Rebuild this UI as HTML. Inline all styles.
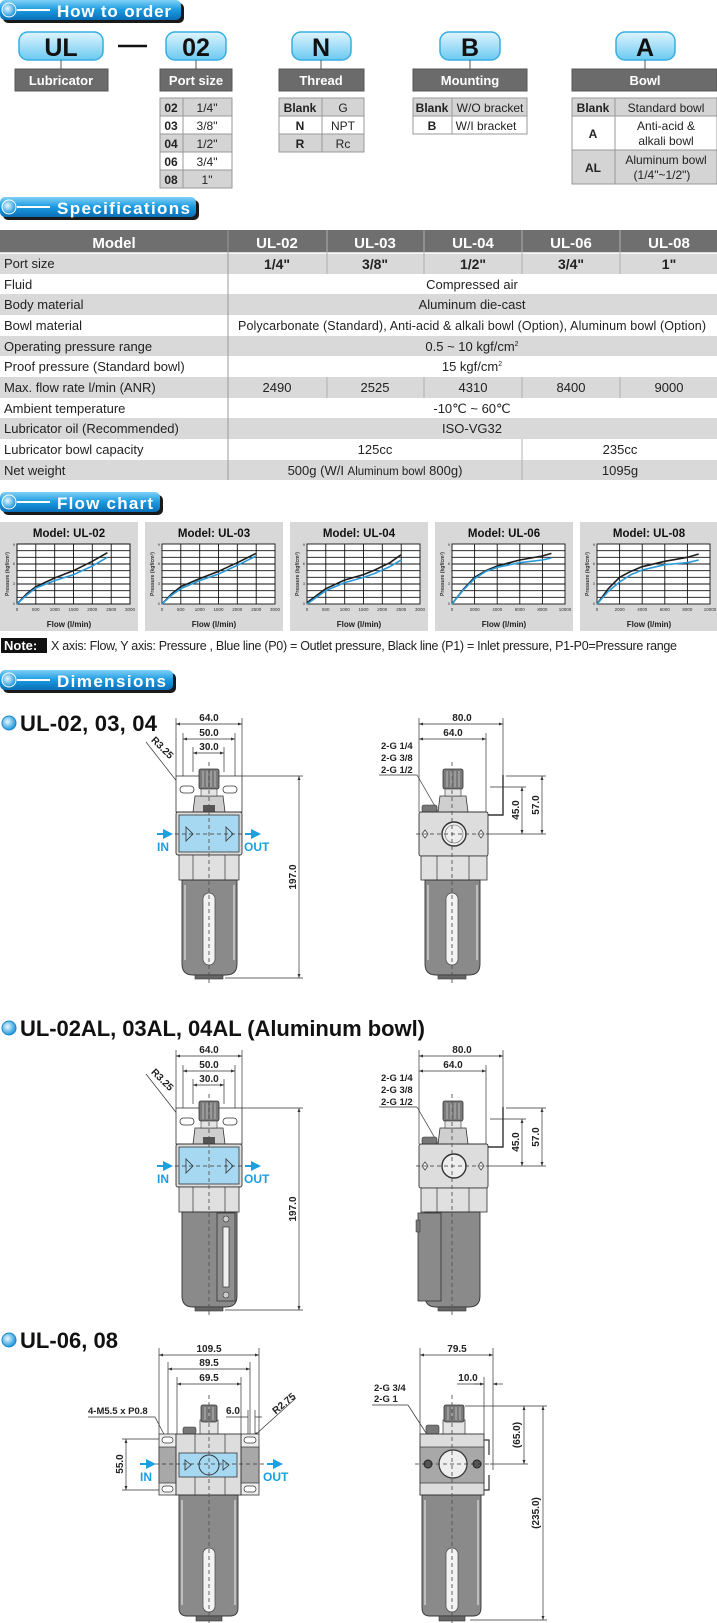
<!DOCTYPE html>
<html><head><meta charset="utf-8"><style>
html,body{margin:0;padding:0;background:#fff}
svg{display:block;font-family:"Liberation Sans",Arial,sans-serif}
</style></head><body>
<svg width="717" height="1623" viewBox="0 0 717 1623" xmlns="http://www.w3.org/2000/svg">
<defs>
<linearGradient id="bn" x1="0" y1="0" x2="0" y2="1"><stop offset="0" stop-color="#7fd0f6"/><stop offset="0.5" stop-color="#1a9ae0"/><stop offset="1" stop-color="#0b6fb8"/></linearGradient>
<linearGradient id="bx" x1="0" y1="0" x2="0" y2="1"><stop offset="0" stop-color="#dff5fe"/><stop offset="1" stop-color="#6cc9f1"/></linearGradient>
<radialGradient id="bul" cx="0.4" cy="0.4" r="0.6"><stop offset="0" stop-color="#e8f8ff"/><stop offset="1" stop-color="#1b96dc"/></radialGradient>
<marker id="ar" viewBox="0 0 8 6" refX="8" refY="3" markerWidth="6" markerHeight="4.5" orient="auto-start-reverse"><path d="M0,0L8,3L0,6Z" fill="#333"/></marker>
<marker id="ab" viewBox="0 0 8 8" refX="4" refY="4" markerWidth="5" markerHeight="5" orient="auto"><path d="M0,0L8,4L0,8Z" fill="#1a9fe3"/></marker>
</defs>

<!-- ===== Banners ===== -->
<g>
<rect x="3" y="3" width="181" height="20" rx="5" fill="#1a1a1a"/><rect x="0" y="0" width="181" height="20" rx="5" fill="url(#bn)"/>
<circle cx="9" cy="10" r="7" fill="url(#bul)" stroke="#fff" stroke-width="1"/><line x1="17" y1="10" x2="50" y2="10" stroke="#fff" stroke-width="2"/>
<text x="57" y="17" font-size="17" font-weight="bold" fill="#fff" textLength="114">How to order</text>
</g>
<g>
<rect x="3" y="200" width="196" height="20" rx="5" fill="#1a1a1a"/><rect x="0" y="197" width="196" height="20" rx="5" fill="url(#bn)"/>
<circle cx="9" cy="207" r="7" fill="url(#bul)" stroke="#fff" stroke-width="1"/><line x1="17" y1="207" x2="50" y2="207" stroke="#fff" stroke-width="2"/>
<text x="57" y="214" font-size="17" font-weight="bold" fill="#fff" textLength="133">Specifications</text>
</g>
<g>
<rect x="3" y="495" width="160" height="20" rx="5" fill="#1a1a1a"/><rect x="0" y="492" width="160" height="20" rx="5" fill="url(#bn)"/>
<circle cx="9" cy="502" r="7" fill="url(#bul)" stroke="#fff" stroke-width="1"/><line x1="17" y1="502" x2="50" y2="502" stroke="#fff" stroke-width="2"/>
<text x="57" y="509" font-size="17" font-weight="bold" fill="#fff" textLength="96">Flow chart</text>
</g>
<g>
<rect x="3" y="673" width="173" height="20" rx="5" fill="#1a1a1a"/><rect x="0" y="670" width="173" height="20" rx="5" fill="url(#bn)"/>
<circle cx="9" cy="680" r="7" fill="url(#bul)" stroke="#fff" stroke-width="1"/><line x1="17" y1="680" x2="50" y2="680" stroke="#fff" stroke-width="2"/>
<text x="57" y="687" font-size="17" font-weight="bold" fill="#fff" textLength="109">Dimensions</text>
</g>

<!-- ===== How to order ===== -->
<g font-weight="bold" font-size="25" text-anchor="middle" fill="#111">
<rect x="19" y="32" width="84" height="28" rx="9" fill="url(#bx)" stroke="#36aee2" stroke-width="1.5"/><text x="61" y="56">UL</text>
<rect x="166" y="32" width="60" height="28" rx="9" fill="url(#bx)" stroke="#36aee2" stroke-width="1.5"/><text x="196" y="56">02</text>
<rect x="292" y="32" width="59" height="28" rx="9" fill="url(#bx)" stroke="#36aee2" stroke-width="1.5"/><text x="321" y="56">N</text>
<rect x="440" y="32" width="60" height="28" rx="9" fill="url(#bx)" stroke="#36aee2" stroke-width="1.5"/><text x="470" y="56">B</text>
<rect x="616" y="32" width="59" height="28" rx="9" fill="url(#bx)" stroke="#36aee2" stroke-width="1.5"/><text x="645" y="56">A</text>
</g>
<line x1="118" y1="46" x2="147" y2="46" stroke="#111" stroke-width="2.5"/>
<g stroke="#555" stroke-width="1"><line x1="61" y1="60" x2="61" y2="69"/><line x1="196" y1="60" x2="196" y2="69"/><line x1="321" y1="60" x2="321" y2="69"/><line x1="470" y1="60" x2="470" y2="69"/><line x1="645" y1="60" x2="645" y2="69"/></g>
<g fill="#6b6b6b" stroke="#555">
<rect x="15" y="69" width="93" height="22"/><rect x="160" y="69" width="72" height="22"/><rect x="279" y="69" width="85" height="22"/><rect x="413" y="69" width="114" height="22"/><rect x="572" y="69" width="145" height="22"/>
</g>
<g font-weight="bold" font-size="13" fill="#fff" text-anchor="middle">
<text x="61" y="85">Lubricator</text><text x="196" y="85">Port size</text><text x="321" y="85">Thread</text><text x="470" y="85">Mounting</text><text x="645" y="85">Bowl</text>
</g>
<!-- port table -->
<g stroke="#999" stroke-width="1">
<rect x="160" y="98" width="72" height="18" fill="#d4d4d4"/><rect x="160" y="116" width="72" height="18" fill="#fff"/><rect x="160" y="134" width="72" height="18" fill="#d4d4d4"/><rect x="160" y="152" width="72" height="18" fill="#fff"/><rect x="160" y="170" width="72" height="18" fill="#d4d4d4"/>
<line x1="183" y1="98" x2="183" y2="188"/>
<rect x="279" y="98" width="85" height="18" fill="#d4d4d4"/><rect x="279" y="116" width="85" height="18" fill="#fff"/><rect x="279" y="134" width="85" height="18" fill="#d4d4d4"/>
<line x1="322" y1="98" x2="322" y2="152"/>
<rect x="413" y="98" width="114" height="18" fill="#d4d4d4"/><rect x="413" y="116" width="114" height="18" fill="#fff"/>
<line x1="452" y1="98" x2="452" y2="134"/>
<rect x="572" y="98" width="145" height="18" fill="#d4d4d4"/><rect x="572" y="116" width="145" height="34" fill="#fff"/><rect x="572" y="150" width="145" height="34" fill="#d4d4d4"/>
<line x1="615" y1="98" x2="615" y2="184"/>
</g>
<g font-size="12" fill="#222" text-anchor="middle">
<g font-weight="bold"><text x="171" y="112">02</text><text x="171" y="130">03</text><text x="171" y="148">04</text><text x="171" y="166">06</text><text x="171" y="184">08</text>
<text x="300" y="112">Blank</text><text x="300" y="130">N</text><text x="300" y="148">R</text>
<text x="432" y="112">Blank</text><text x="432" y="130">B</text>
<text x="593" y="112">Blank</text><text x="593" y="138">A</text><text x="593" y="172">AL</text></g>
<text x="207" y="112">1/4"</text><text x="207" y="130">3/8"</text><text x="207" y="148">1/2"</text><text x="207" y="166">3/4"</text><text x="207" y="184">1"</text>
<text x="343" y="112">G</text><text x="343" y="130">NPT</text><text x="343" y="148">Rc</text>
<text x="490" y="112">W/O bracket</text><text x="486" y="130" >W/I bracket</text>
<text x="666" y="112">Standard bowl</text><text x="666" y="130">Anti-acid &amp;</text><text x="666" y="145">alkali bowl</text><text x="666" y="164">Aluminum bowl</text><text x="662" y="179">(1/4"~1/2")</text>
</g>

<!-- ===== Specifications table ===== -->
<rect x="0" y="230" width="717" height="23" fill="#6f6f6f"/>
<g fill="#d9d9d9">
<rect x="0" y="253" width="717" height="21"/><rect x="0" y="294" width="717" height="21"/><rect x="0" y="336" width="717" height="20"/><rect x="0" y="377" width="717" height="21"/><rect x="0" y="418" width="717" height="21"/><rect x="0" y="460" width="717" height="20"/>
</g>
<g stroke="#fff" stroke-width="1.5"><line x1="0" y1="253" x2="717" y2="253"/></g>
<g stroke="#b0b0b0" stroke-width="1">
<line x1="228" y1="230" x2="228" y2="480" stroke="#999"/>
<line x1="327" y1="230" x2="327" y2="274"/><line x1="424" y1="230" x2="424" y2="274"/><line x1="522" y1="230" x2="522" y2="274"/><line x1="620" y1="230" x2="620" y2="274"/>
<line x1="327" y1="377" x2="327" y2="398"/><line x1="424" y1="377" x2="424" y2="398"/><line x1="522" y1="377" x2="522" y2="398"/><line x1="620" y1="377" x2="620" y2="398"/>
<line x1="522" y1="439" x2="522" y2="480"/>
</g>
<g font-size="15" font-weight="bold" fill="#fff" text-anchor="middle">
<text x="114" y="248">Model</text><text x="277" y="248">UL-02</text><text x="375" y="248">UL-03</text><text x="473" y="248">UL-04</text><text x="571" y="248">UL-06</text><text x="669" y="248">UL-08</text>
</g>
<g font-size="13" fill="#222">
<text x="4" y="268">Port size</text><text x="4" y="289">Fluid</text><text x="4" y="309">Body material</text><text x="4" y="330">Bowl material</text><text x="4" y="351">Operating pressure range</text><text x="4" y="371">Proof pressure (Standard bowl)</text><text x="4" y="392">Max. flow rate l/min (ANR)</text><text x="4" y="413">Ambient temperature</text><text x="4" y="433">Lubricator oil (Recommended)</text><text x="4" y="454">Lubricator bowl capacity</text><text x="4" y="475">Net weight</text>
</g>
<g font-size="13" fill="#222" text-anchor="middle">
<g font-weight="bold" font-size="14"><text x="277" y="269">1/4"</text><text x="375" y="269">3/8"</text><text x="473" y="269">1/2"</text><text x="571" y="269">3/4"</text><text x="669" y="269">1"</text></g>
<text x="472" y="289">Compressed air</text>
<text x="472" y="309">Aluminum die-cast</text>
<text x="472" y="330" textLength="468" font-size="12.5">Polycarbonate (Standard), Anti-acid &amp; alkali bowl (Option), Aluminum bowl (Option)</text>
<text x="472" y="351">0.5 ~ 10 kgf/cm<tspan font-size="7" dy="-5">2</tspan></text>
<text x="472" y="371">15 kgf/cm<tspan font-size="7" dy="-5">2</tspan></text>
<text x="277" y="392">2490</text><text x="375" y="392">2525</text><text x="473" y="392">4310</text><text x="571" y="392">8400</text><text x="669" y="392">9000</text>
<text x="472" y="413">-10℃ ~ 60℃</text>
<text x="472" y="433">ISO-VG32</text>
<text x="375" y="454">125cc</text><text x="620" y="454">235cc</text>
<text x="375" y="475">500g (W/I <tspan font-size="11.5">Aluminum bowl</tspan> 800g)</text><text x="620" y="475">1095g</text>
</g>

<!-- ===== Flow charts ===== -->
<g fill="#d8d8d8"><rect x="0" y="522" width="138" height="109"/><rect x="145" y="522" width="138" height="109"/><rect x="290" y="522" width="138" height="109"/><rect x="435" y="522" width="138" height="109"/><rect x="580" y="522" width="137" height="109"/></g>
<g font-size="11.5" font-weight="bold" fill="#111" text-anchor="middle">
<text x="69" y="537">Model: UL-02</text><text x="214" y="537">Model: UL-03</text><text x="359" y="537">Model: UL-04</text><text x="504" y="537">Model: UL-06</text><text x="649" y="537">Model: UL-08</text>
</g>
<g font-size="8" font-weight="bold" fill="#222" text-anchor="middle">
<text x="69" y="627">Flow (l/min)</text><text x="214" y="627">Flow (l/min)</text><text x="359" y="627">Flow (l/min)</text><text x="504" y="627">Flow (l/min)</text><text x="649" y="627">Flow (l/min)</text>
</g>
<g font-size="5" font-weight="bold" fill="#333" text-anchor="middle">
<text transform="translate(9,574) rotate(-90)">Pressure (kgf/cm²)</text><text transform="translate(154,574) rotate(-90)">Pressure (kgf/cm²)</text><text transform="translate(299,574) rotate(-90)">Pressure (kgf/cm²)</text><text transform="translate(444,574) rotate(-90)">Pressure (kgf/cm²)</text><text transform="translate(589,574) rotate(-90)">Pressure (kgf/cm²)</text>
</g>
<!-- plot 1..3 (0-3000) -->
<g id="p1">
<rect x="17" y="544" width="113" height="60" fill="#fff" stroke="#111" stroke-width="1"/>
<g stroke="#111" stroke-width="0.9">
<path d="M35.8 544V604M54.7 544V604M73.5 544V604M92.3 544V604M111.2 544V604M17 550.7H130M17 557.3H130M17 564H130M17 570.7H130M17 577.3H130M17 584H130M17 590.7H130M17 597.3H130"/>
</g>
</g>
<g stroke="#111" stroke-width="0.9" fill="#fff">
<rect x="162" y="544" width="113" height="60"/>
<path d="M180.8 544V604M199.7 544V604M218.5 544V604M237.3 544V604M256.2 544V604M162 550.7H275M162 557.3H275M162 564H275M162 570.7H275M162 577.3H275M162 584H275M162 590.7H275M162 597.3H275" fill="none"/>
<rect x="307" y="544" width="113" height="60"/>
<path d="M325.8 544V604M344.7 544V604M363.5 544V604M382.3 544V604M401.2 544V604M307 550.7H420M307 557.3H420M307 564H420M307 570.7H420M307 577.3H420M307 584H420M307 590.7H420M307 597.3H420" fill="none"/>
<rect x="452" y="544" width="113" height="60"/>
<path d="M474.6 544V604M497.2 544V604M519.8 544V604M542.4 544V604M452 550.7H565M452 557.3H565M452 564H565M452 570.7H565M452 577.3H565M452 584H565M452 590.7H565M452 597.3H565" fill="none"/>
<rect x="597" y="544" width="113" height="60"/>
<path d="M619.6 544V604M642.2 544V604M664.8 544V604M687.4 544V604M597 550.7H710M597 557.3H710M597 564H710M597 570.7H710M597 577.3H710M597 584H710M597 590.7H710M597 597.3H710" fill="none"/>
</g>
<!-- curves -->
<g fill="none" stroke-width="1.6" stroke-linejoin="round">
<g transform="translate(17,604) scale(0.037667,-6.6667)">
<polyline vector-effect="non-scaling-stroke" stroke="#1d1d1d" points="0,0 250,1.5 500,2.6 1000,3.9 1500,5.0 2000,6.4 2400,7.7"/>
<polyline vector-effect="non-scaling-stroke" stroke="#2a9ad8" points="0,0 250,1.3 500,2.4 1000,3.5 1500,4.4 2000,5.7 2400,7.0"/>
</g>
<g transform="translate(162,604) scale(0.037667,-6.6667)">
<polyline vector-effect="non-scaling-stroke" stroke="#1d1d1d" points="0,0 250,1.5 500,2.6 1000,3.8 1500,4.9 2000,6.2 2500,7.6"/>
<polyline vector-effect="non-scaling-stroke" stroke="#2a9ad8" points="0,0 250,1.3 500,2.3 1000,3.5 1500,4.5 2000,5.8 2500,7.2"/>
</g>
<g transform="translate(307,604) scale(0.037667,-6.6667)">
<polyline vector-effect="non-scaling-stroke" stroke="#1d1d1d" points="0,0.2 500,2.3 1000,3.6 1500,4.4 1800,5.1 2200,6.2 2500,7.4"/>
<polyline vector-effect="non-scaling-stroke" stroke="#2a9ad8" points="0,0 500,2.0 1000,3.2 1500,4.0 1800,4.6 2200,5.6 2500,6.6"/>
</g>
<g transform="translate(452,604) scale(0.0113,-6.6667)">
<polyline vector-effect="non-scaling-stroke" stroke="#1d1d1d" points="0,0 1000,2.2 2000,4.0 3000,5.0 4000,5.7 6000,6.6 8000,7.2 8800,7.6"/>
<polyline vector-effect="non-scaling-stroke" stroke="#2a9ad8" points="0,0 1000,2.1 2000,3.8 3000,4.9 4000,5.5 6000,6.2 8000,6.6 8800,6.9"/>
</g>
<g transform="translate(597,604) scale(0.0113,-6.6667)">
<polyline vector-effect="non-scaling-stroke" stroke="#1d1d1d" points="0,0 1000,2.3 2000,4.0 3000,4.9 4000,5.6 6000,6.4 8000,7.0 9000,7.5"/>
<polyline vector-effect="non-scaling-stroke" stroke="#2a9ad8" points="0,0 1000,1.9 2000,3.3 3000,4.4 4000,5.1 6000,5.9 8000,6.2 9000,6.6"/>
</g>
</g>
<g font-size="4.5" fill="#333" text-anchor="middle">
<text x="17" y="611">0</text><text x="35.8" y="611">500</text><text x="54.7" y="611">1000</text><text x="73.5" y="611">1500</text><text x="92.3" y="611">2000</text><text x="111.2" y="611">2500</text><text x="130" y="611">3000</text>
<text x="162" y="611">0</text><text x="180.8" y="611">500</text><text x="199.7" y="611">1000</text><text x="218.5" y="611">1500</text><text x="237.3" y="611">2000</text><text x="256.2" y="611">2500</text><text x="275" y="611">3000</text>
<text x="307" y="611">0</text><text x="325.8" y="611">500</text><text x="344.7" y="611">1000</text><text x="363.5" y="611">1500</text><text x="382.3" y="611">2000</text><text x="401.2" y="611">2500</text><text x="420" y="611">3000</text>
<text x="452" y="611">0</text><text x="474.6" y="611">2000</text><text x="497.2" y="611">4000</text><text x="519.8" y="611">6000</text><text x="542.4" y="611">8000</text><text x="565" y="611">10000</text>
<text x="597" y="611">0</text><text x="619.6" y="611">2000</text><text x="642.2" y="611">4000</text><text x="664.8" y="611">6000</text><text x="687.4" y="611">8000</text><text x="710" y="611">10000</text>
</g>
<g font-size="4" fill="#333" text-anchor="end">
<text x="15" y="605">0</text><text x="15" y="585">3</text><text x="15" y="565">6</text><text x="15" y="546">9</text>
<text x="160" y="605">0</text><text x="160" y="585">3</text><text x="160" y="565">6</text><text x="160" y="546">9</text>
<text x="305" y="605">0</text><text x="305" y="585">3</text><text x="305" y="565">6</text><text x="305" y="546">9</text>
<text x="450" y="605">0</text><text x="450" y="585">3</text><text x="450" y="565">6</text><text x="450" y="546">9</text>
<text x="595" y="605">0</text><text x="595" y="585">3</text><text x="595" y="565">6</text><text x="595" y="546">9</text>
</g>
<!-- note -->
<rect x="1" y="638" width="46" height="15" fill="#111"/>
<text x="4" y="650" font-size="13" font-weight="bold" fill="#fff">Note:</text>
<text x="51" y="650" font-size="12.5" fill="#222" textLength="626">X axis: Flow, Y axis: Pressure , Blue line (P0) = Outlet pressure, Black line (P1) = Inlet pressure, P1-P0=Pressure range</text>

<!-- ===== Dimension titles ===== -->
<circle cx="9" cy="723" r="7" fill="url(#bul)" stroke="#1b88cc"/>
<text x="20" y="731" font-size="22" font-weight="bold" fill="#111" textLength="137">UL-02, 03, 04</text>
<circle cx="9" cy="1028" r="7" fill="url(#bul)" stroke="#1b88cc"/>
<text x="20" y="1036" font-size="22" font-weight="bold" fill="#111" textLength="405">UL-02AL, 03AL, 04AL (Aluminum bowl)</text>
<circle cx="9" cy="1340" r="7" fill="url(#bul)" stroke="#1b88cc"/>
<text x="20" y="1348" font-size="22" font-weight="bold" fill="#111" textLength="98">UL-06, 08</text>

<!-- ===== Drawing pair 1 and 2 ===== -->
<g id="pairA">
<!-- left view -->
<g stroke="#333" stroke-width="0.7" fill="none">
<path d="M176 718V776M242 718V776M183 733V792M235 733V792M193 747V772M224 747V772M242 776H303M225 978H303"/>
<line x1="176" y1="724" x2="242" y2="724" marker-start="url(#ar)" marker-end="url(#ar)"/>
<line x1="183" y1="739" x2="235" y2="739" marker-start="url(#ar)" marker-end="url(#ar)"/>
<line x1="193" y1="753" x2="224" y2="753" marker-start="url(#ar)" marker-end="url(#ar)"/>
<line x1="299" y1="776" x2="299" y2="978" marker-start="url(#ar)" marker-end="url(#ar)"/>
<line x1="146" y1="742" x2="182" y2="788" marker-end="url(#ar)"/>
</g>
<g font-size="10" font-weight="bold" fill="#222" text-anchor="middle">
<text x="209" y="721">64.0</text><text x="209" y="736">50.0</text><text x="209" y="750">30.0</text>
<text transform="translate(296,877) rotate(-90)">197.0</text>
<text transform="translate(160,750) rotate(45)">R3.25</text>
</g>
<rect x="176" y="776" width="66" height="36" fill="#fff" stroke="#333" stroke-width="0.8"/>
<rect x="180" y="786" width="14" height="7" rx="3.5" fill="#fff" stroke="#333" stroke-width="0.8"/>
<rect x="223" y="786" width="14" height="7" rx="3.5" fill="#fff" stroke="#333" stroke-width="0.8"/>
<path d="M193 812L195 796H223L225 812Z" fill="#cfcfcf" stroke="#333" stroke-width="0.8"/>
<rect x="199" y="769" width="20" height="20" rx="2" fill="#7a7a7a" stroke="#333" stroke-width="0.8"/>
<path d="M203 771V787M207 771V787M211 771V787M215 771V787" stroke="#bbb" stroke-width="1"/>
<rect x="201" y="789" width="16" height="7" fill="#e4e4e4" stroke="#333" stroke-width="0.6"/>
<rect x="203" y="805" width="12" height="7" fill="#555"/>
<rect x="176" y="812" width="66" height="43" rx="2" fill="#ddd" stroke="#333" stroke-width="0.9"/>
<rect x="179" y="815" width="60" height="37" fill="#a6d8f2" stroke="#333" stroke-width="0.8"/>
<path d="M186 827L193 834L186 841Z M226 827L233 834L226 841Z" fill="none" stroke="#333" stroke-width="0.8"/>
<rect x="179" y="855" width="60" height="25" fill="#e0e0e0" stroke="#333" stroke-width="0.8"/>
<path d="M193 855V880M225 855V880" stroke="#333" stroke-width="0.7"/>
<path d="M182 880H237V964Q237 975 226 975H193Q182 975 182 964Z" fill="#8a8a8a" stroke="#333" stroke-width="0.9"/>
<path d="M185 885V960M234 885V960" stroke="#cfcfcf" stroke-width="1.5"/>
<rect x="195" y="975" width="28" height="4" fill="#666" stroke="#333" stroke-width="0.6"/>
<rect x="203" y="893" width="12" height="72" rx="6" fill="#f2f2f2" stroke="#444" stroke-width="0.7"/>
<line x1="209" y1="762" x2="209" y2="985" stroke="#555" stroke-width="0.9" stroke-dasharray="4,3"/>
<line x1="168" y1="834" x2="250" y2="834" stroke="#333" stroke-width="0.8" stroke-dasharray="4,3"/>
<line x1="157" y1="834" x2="168" y2="834" stroke="#1a9fe3" stroke-width="2" marker-end="url(#ab)"/>
<line x1="245" y1="834" x2="256" y2="834" stroke="#1a9fe3" stroke-width="2" marker-end="url(#ab)"/>
<g font-size="12" font-weight="bold" fill="#1a9fe3"><text x="157" y="851">IN</text><text x="244" y="851">OUT</text></g>

<!-- right view -->
<g stroke="#333" stroke-width="0.7" fill="none">
<path d="M419 718V812M503 718V775M486 733V812M506 776H546M490 787H526M490 834H546M417 775H379"/>
<line x1="419" y1="724" x2="503" y2="724" marker-start="url(#ar)" marker-end="url(#ar)"/>
<line x1="419" y1="739" x2="486" y2="739" marker-start="url(#ar)" marker-end="url(#ar)"/>
<line x1="542" y1="776" x2="542" y2="834" marker-start="url(#ar)" marker-end="url(#ar)"/>
<line x1="522" y1="787" x2="522" y2="834" marker-start="url(#ar)" marker-end="url(#ar)"/>
<line x1="417" y1="775" x2="447" y2="827" marker-end="url(#ar)"/>
</g>
<g font-size="10" font-weight="bold" fill="#222" text-anchor="middle">
<text x="462" y="721">80.0</text><text x="453" y="736">64.0</text>
<text transform="translate(519,810) rotate(-90)">45.0</text>
<text transform="translate(539,805) rotate(-90)">57.0</text>
</g>
<g font-size="9.5" font-weight="bold" fill="#222"><text x="381" y="749">2-G 1/4</text><text x="381" y="761">2-G 3/8</text><text x="381" y="773">2-G 1/2</text></g>
<path d="M503 775V815H486" fill="none" stroke="#333" stroke-width="1.4"/>
<path d="M438 812L440 796H466L468 812Z" fill="#cfcfcf" stroke="#333" stroke-width="0.8"/>
<rect x="443" y="769" width="20" height="20" rx="2" fill="#7a7a7a" stroke="#333" stroke-width="0.8"/>
<path d="M447 771V787M451 771V787M455 771V787M459 771V787" stroke="#bbb" stroke-width="1"/>
<rect x="445" y="789" width="16" height="7" fill="#e4e4e4" stroke="#333" stroke-width="0.6"/>
<rect x="422" y="805" width="15" height="7" rx="2" fill="#777" stroke="#333" stroke-width="0.6"/>
<rect x="419" y="812" width="69" height="44" rx="2" fill="#ddd" stroke="#333" stroke-width="0.9"/>
<circle cx="454" cy="834" r="12" fill="#eee" stroke="#333" stroke-width="1.4"/>
<circle cx="454" cy="834" r="9" fill="none" stroke="#666" stroke-width="0.6"/>
<path d="M425 830L428 834L425 838L422 834Z M481 830L484 834L481 838L478 834Z" fill="#fff" stroke="#333" stroke-width="0.7"/>
<rect x="421" y="856" width="66" height="24" fill="#e0e0e0" stroke="#333" stroke-width="0.8"/>
<path d="M437 856V880M469 856V880" stroke="#333" stroke-width="0.7"/>
<path d="M425 880H480V964Q480 975 469 975H436Q425 975 425 964Z" fill="#8a8a8a" stroke="#333" stroke-width="0.9"/>
<path d="M428 885V960M477 885V960" stroke="#cfcfcf" stroke-width="1.5"/>
<rect x="438" y="975" width="28" height="4" fill="#666" stroke="#333" stroke-width="0.6"/>
<rect x="446" y="893" width="12" height="72" rx="6" fill="#f2f2f2" stroke="#444" stroke-width="0.7"/>
<line x1="452" y1="762" x2="452" y2="985" stroke="#555" stroke-width="0.9" stroke-dasharray="4,3"/>
<line x1="416" y1="834" x2="490" y2="834" stroke="#333" stroke-width="0.8" stroke-dasharray="4,3"/>
</g>

<g transform="translate(0,332)">
<g stroke="#333" stroke-width="0.7" fill="none">
<path d="M176 718V776M242 718V776M183 733V792M235 733V792M193 747V772M224 747V772M242 776H303M225 978H303"/>
<line x1="176" y1="724" x2="242" y2="724" marker-start="url(#ar)" marker-end="url(#ar)"/>
<line x1="183" y1="739" x2="235" y2="739" marker-start="url(#ar)" marker-end="url(#ar)"/>
<line x1="193" y1="753" x2="224" y2="753" marker-start="url(#ar)" marker-end="url(#ar)"/>
<line x1="299" y1="776" x2="299" y2="978" marker-start="url(#ar)" marker-end="url(#ar)"/>
<line x1="146" y1="742" x2="182" y2="788" marker-end="url(#ar)"/>
</g>
<g font-size="10" font-weight="bold" fill="#222" text-anchor="middle">
<text x="209" y="721">64.0</text><text x="209" y="736">50.0</text><text x="209" y="750">30.0</text>
<text transform="translate(296,877) rotate(-90)">197.0</text>
<text transform="translate(160,750) rotate(45)">R3.25</text>
</g>
<rect x="176" y="776" width="66" height="36" fill="#fff" stroke="#333" stroke-width="0.8"/>
<rect x="180" y="786" width="14" height="7" rx="3.5" fill="#fff" stroke="#333" stroke-width="0.8"/>
<rect x="223" y="786" width="14" height="7" rx="3.5" fill="#fff" stroke="#333" stroke-width="0.8"/>
<path d="M193 812L195 796H223L225 812Z" fill="#cfcfcf" stroke="#333" stroke-width="0.8"/>
<rect x="199" y="769" width="20" height="20" rx="2" fill="#7a7a7a" stroke="#333" stroke-width="0.8"/>
<path d="M203 771V787M207 771V787M211 771V787M215 771V787" stroke="#bbb" stroke-width="1"/>
<rect x="201" y="789" width="16" height="7" fill="#e4e4e4" stroke="#333" stroke-width="0.6"/>
<rect x="203" y="805" width="12" height="7" fill="#555"/>
<rect x="176" y="812" width="66" height="43" rx="2" fill="#ddd" stroke="#333" stroke-width="0.9"/>
<rect x="179" y="815" width="60" height="37" fill="#a6d8f2" stroke="#333" stroke-width="0.8"/>
<path d="M186 827L193 834L186 841Z M226 827L233 834L226 841Z" fill="none" stroke="#333" stroke-width="0.8"/>
<rect x="179" y="855" width="60" height="25" fill="#e0e0e0" stroke="#333" stroke-width="0.8"/>
<path d="M193 855V880M225 855V880" stroke="#333" stroke-width="0.7"/>
<path d="M182 880H237V964Q237 975 226 975H193Q182 975 182 964Z" fill="#8a8a8a" stroke="#333" stroke-width="0.9"/>
<rect x="195" y="975" width="28" height="4" fill="#666" stroke="#333" stroke-width="0.6"/>
<rect x="217" y="881" width="18" height="88" fill="#8f8f8f" stroke="#333" stroke-width="0.8"/>
<rect x="223" y="895" width="6" height="60" fill="#eee" stroke="#333" stroke-width="0.7"/>
<circle cx="226" cy="887" r="3" fill="#ccc" stroke="#333" stroke-width="0.6"/><circle cx="226" cy="963" r="3" fill="#ccc" stroke="#333" stroke-width="0.6"/>
<line x1="209" y1="762" x2="209" y2="985" stroke="#555" stroke-width="0.9" stroke-dasharray="4,3"/>
<line x1="168" y1="834" x2="250" y2="834" stroke="#333" stroke-width="0.8" stroke-dasharray="4,3"/>
<line x1="157" y1="834" x2="168" y2="834" stroke="#1a9fe3" stroke-width="2" marker-end="url(#ab)"/>
<line x1="245" y1="834" x2="256" y2="834" stroke="#1a9fe3" stroke-width="2" marker-end="url(#ab)"/>
<g font-size="12" font-weight="bold" fill="#1a9fe3"><text x="157" y="851">IN</text><text x="244" y="851">OUT</text></g>

<g stroke="#333" stroke-width="0.7" fill="none">
<path d="M419 718V812M503 718V775M486 733V812M506 776H546M490 787H526M490 834H546M417 775H379"/>
<line x1="419" y1="724" x2="503" y2="724" marker-start="url(#ar)" marker-end="url(#ar)"/>
<line x1="419" y1="739" x2="486" y2="739" marker-start="url(#ar)" marker-end="url(#ar)"/>
<line x1="542" y1="776" x2="542" y2="834" marker-start="url(#ar)" marker-end="url(#ar)"/>
<line x1="522" y1="787" x2="522" y2="834" marker-start="url(#ar)" marker-end="url(#ar)"/>
<line x1="417" y1="775" x2="447" y2="827" marker-end="url(#ar)"/>
</g>
<g font-size="10" font-weight="bold" fill="#222" text-anchor="middle">
<text x="462" y="721">80.0</text><text x="453" y="736">64.0</text>
<text transform="translate(519,810) rotate(-90)">45.0</text>
<text transform="translate(539,805) rotate(-90)">57.0</text>
</g>
<g font-size="9.5" font-weight="bold" fill="#222"><text x="381" y="749">2-G 1/4</text><text x="381" y="761">2-G 3/8</text><text x="381" y="773">2-G 1/2</text></g>
<path d="M503 775V815H486" fill="none" stroke="#333" stroke-width="1.4"/>
<path d="M438 812L440 796H466L468 812Z" fill="#cfcfcf" stroke="#333" stroke-width="0.8"/>
<rect x="443" y="769" width="20" height="20" rx="2" fill="#7a7a7a" stroke="#333" stroke-width="0.8"/>
<path d="M447 771V787M451 771V787M455 771V787M459 771V787" stroke="#bbb" stroke-width="1"/>
<rect x="445" y="789" width="16" height="7" fill="#e4e4e4" stroke="#333" stroke-width="0.6"/>
<rect x="422" y="805" width="15" height="7" rx="2" fill="#777" stroke="#333" stroke-width="0.6"/>
<rect x="419" y="812" width="69" height="44" rx="2" fill="#ddd" stroke="#333" stroke-width="0.9"/>
<circle cx="454" cy="834" r="12" fill="#eee" stroke="#333" stroke-width="1.4"/>
<path d="M425 830L428 834L425 838L422 834Z M481 830L484 834L481 838L478 834Z" fill="#fff" stroke="#333" stroke-width="0.7"/>
<rect x="421" y="856" width="66" height="24" fill="#e0e0e0" stroke="#333" stroke-width="0.8"/>
<path d="M437 856V880M469 856V880" stroke="#333" stroke-width="0.7"/>
<path d="M425 880H480V964Q480 975 469 975H436Q425 975 425 964Z" fill="#8a8a8a" stroke="#333" stroke-width="0.9"/>
<rect x="438" y="975" width="28" height="4" fill="#666" stroke="#333" stroke-width="0.6"/>
<rect x="418" y="881" width="23" height="88" fill="#8a8a8a" stroke="#333" stroke-width="0.8"/>
<rect x="416" y="888" width="4" height="12" fill="#777" stroke="#333" stroke-width="0.5"/>
<line x1="452" y1="762" x2="452" y2="985" stroke="#555" stroke-width="0.9" stroke-dasharray="4,3"/>
<line x1="416" y1="834" x2="490" y2="834" stroke="#333" stroke-width="0.8" stroke-dasharray="4,3"/>
</g>

<!-- ===== Pair 3 UL-06, 08 ===== -->
<g stroke="#333" stroke-width="0.7" fill="none">
<path d="M159 1348V1434M259 1348V1434M168 1362V1437M250 1362V1437M177 1377V1434M241 1377V1434M122 1439H176M122 1490H176M248 1410V1440M255 1410V1440"/>
<line x1="159" y1="1355" x2="259" y2="1355" marker-start="url(#ar)" marker-end="url(#ar)"/>
<line x1="168" y1="1369" x2="250" y2="1369" marker-start="url(#ar)" marker-end="url(#ar)"/>
<line x1="177" y1="1384" x2="241" y2="1384" marker-start="url(#ar)" marker-end="url(#ar)"/>
<line x1="126" y1="1439" x2="126" y2="1490" marker-start="url(#ar)" marker-end="url(#ar)"/>
<path d="M226 1417H248M255 1417H262"/>
<path d="M88 1417H155L167 1440"/>
<line x1="296" y1="1398" x2="254" y2="1436" marker-end="url(#ar)"/>
</g>
<g font-size="10" font-weight="bold" fill="#222" text-anchor="middle">
<text x="209" y="1352">109.5</text><text x="209" y="1366">89.5</text><text x="209" y="1381">69.5</text>
<text x="233" y="1414">6.0</text>
<text transform="translate(123,1464) rotate(-90)">55.0</text>
<text transform="translate(286,1406) rotate(-40)">R2.75</text>
</g>
<text x="88" y="1414" font-size="9.5" font-weight="bold" fill="#222">4-M5.5 x P0.8</text>
<rect x="159" y="1434" width="17" height="61" fill="#eee" stroke="#333" stroke-width="0.8"/>
<rect x="241" y="1434" width="18" height="61" fill="#eee" stroke="#333" stroke-width="0.8"/>
<rect x="159" y="1447" width="17" height="36" fill="#a8a8a8" stroke="#333" stroke-width="0.7"/>
<rect x="241" y="1447" width="18" height="36" fill="#a8a8a8" stroke="#333" stroke-width="0.7"/>
<rect x="162" y="1437" width="11" height="6" rx="3" fill="#fff" stroke="#333" stroke-width="0.7"/><rect x="244" y="1437" width="12" height="6" rx="3" fill="#fff" stroke="#333" stroke-width="0.7"/>
<rect x="162" y="1486" width="11" height="6" rx="3" fill="#fff" stroke="#333" stroke-width="0.7"/><rect x="244" y="1486" width="12" height="6" rx="3" fill="#fff" stroke="#333" stroke-width="0.7"/>
<rect x="183" y="1427" width="13" height="7" rx="2" fill="#777" stroke="#333" stroke-width="0.6"/>
<rect x="200" y="1420" width="18" height="14" fill="#e4e4e4" stroke="#333" stroke-width="0.7"/>
<rect x="201" y="1405" width="16" height="17" rx="2" fill="#7a7a7a" stroke="#333" stroke-width="0.8"/>
<path d="M205 1407V1420M209 1407V1420M213 1407V1420" stroke="#bbb"/>
<rect x="176" y="1434" width="65" height="61" fill="#ddd" stroke="#333" stroke-width="0.9"/>
<path d="M195 1434V1495M225 1434V1495" stroke="#333" stroke-width="0.7"/>
<rect x="179" y="1453" width="58" height="24" fill="#a6d8f2" stroke="#333" stroke-width="0.8"/>
<circle cx="209" cy="1465" r="10" fill="none" stroke="#333" stroke-width="1"/>
<path d="M185 1460L191 1465L185 1470Z M223 1460L229 1465L223 1470Z" fill="none" stroke="#333" stroke-width="0.8"/>
<path d="M179 1495H238V1608Q238 1616 230 1616H187Q179 1616 179 1608Z" fill="#8a8a8a" stroke="#333" stroke-width="0.9"/>
<path d="M182 1500V1605M235 1500V1605" stroke="#cfcfcf" stroke-width="1.5"/>
<rect x="196" y="1616" width="26" height="5" fill="#666" stroke="#333" stroke-width="0.6"/>
<rect x="203" y="1548" width="12" height="64" rx="6" fill="#f2f2f2" stroke="#444" stroke-width="0.7"/>
<line x1="209" y1="1395" x2="209" y2="1623" stroke="#555" stroke-width="0.9" stroke-dasharray="4,3"/>
<line x1="155" y1="1464" x2="265" y2="1464" stroke="#333" stroke-width="0.8" stroke-dasharray="4,3"/>
<line x1="140" y1="1464" x2="151" y2="1464" stroke="#1a9fe3" stroke-width="2" marker-end="url(#ab)"/>
<line x1="267" y1="1464" x2="278" y2="1464" stroke="#1a9fe3" stroke-width="2" marker-end="url(#ab)"/>
<g font-size="12" font-weight="bold" fill="#1a9fe3"><text x="140" y="1481">IN</text><text x="263" y="1481">OUT</text></g>

<g stroke="#333" stroke-width="0.7" fill="none">
<path d="M420 1348V1434M493 1348V1470M484 1377V1434M465 1406H547M490 1464H528M470 1620H547M372 1405H408"/>
<line x1="420" y1="1355" x2="493" y2="1355" marker-start="url(#ar)" marker-end="url(#ar)"/>
<path d="M457 1384H484" /><line x1="503" y1="1384" x2="493" y2="1384" marker-end="url(#ar)"/><line x1="474" y1="1384" x2="484" y2="1384" marker-end="url(#ar)"/>
<line x1="524" y1="1406" x2="524" y2="1464" marker-start="url(#ar)" marker-end="url(#ar)"/>
<line x1="543" y1="1406" x2="543" y2="1620" marker-start="url(#ar)" marker-end="url(#ar)"/>
<line x1="408" y1="1405" x2="439" y2="1453" marker-end="url(#ar)"/>
</g>
<g font-size="10" font-weight="bold" fill="#222" text-anchor="middle">
<text x="457" y="1352">79.5</text><text x="468" y="1381">10.0</text>
<text transform="translate(520,1435) rotate(-90)">(65.0)</text>
<text transform="translate(539,1513) rotate(-90)">(235.0)</text>
</g>
<g font-size="9.5" font-weight="bold" fill="#222"><text x="374" y="1391">2-G 3/4</text><text x="374" y="1402">2-G 1</text></g>
<rect x="426" y="1425" width="13" height="9" rx="2" fill="#777" stroke="#333" stroke-width="0.6"/>
<rect x="443" y="1420" width="22" height="14" fill="#e4e4e4" stroke="#333" stroke-width="0.7"/>
<rect x="444" y="1405" width="20" height="17" rx="2" fill="#7a7a7a" stroke="#333" stroke-width="0.8"/>
<path d="M448 1407V1420M452 1407V1420M456 1407V1420M460 1407V1420" stroke="#bbb"/>
<rect x="420" y="1434" width="64" height="61" fill="#ddd" stroke="#333" stroke-width="0.9"/>
<rect x="420" y="1447" width="64" height="36" fill="#a8a8a8" stroke="#333" stroke-width="0.7"/>
<circle cx="453" cy="1464" r="14" fill="#eee" stroke="#333" stroke-width="1.2"/>
<circle cx="428" cy="1464" r="4" fill="#555" stroke="#222"/><circle cx="477" cy="1464" r="4" fill="#555" stroke="#222"/>
<path d="M484 1440H489V1447M484 1490H489V1483M489 1445V1455M489 1475V1485" fill="none" stroke="#333" stroke-width="1.2"/>
<path d="M422 1495H481V1608Q481 1616 473 1616H430Q422 1616 422 1608Z" fill="#8a8a8a" stroke="#333" stroke-width="0.9"/>
<path d="M425 1500V1605M478 1500V1605" stroke="#cfcfcf" stroke-width="1.5"/>
<rect x="439" y="1616" width="26" height="5" fill="#666" stroke="#333" stroke-width="0.6"/>
<rect x="446" y="1548" width="12" height="64" rx="6" fill="#f2f2f2" stroke="#444" stroke-width="0.7"/>
<line x1="452" y1="1395" x2="452" y2="1623" stroke="#555" stroke-width="0.9" stroke-dasharray="4,3"/>
<line x1="415" y1="1464" x2="492" y2="1464" stroke="#333" stroke-width="0.8" stroke-dasharray="4,3"/>
</svg>
</body></html>
